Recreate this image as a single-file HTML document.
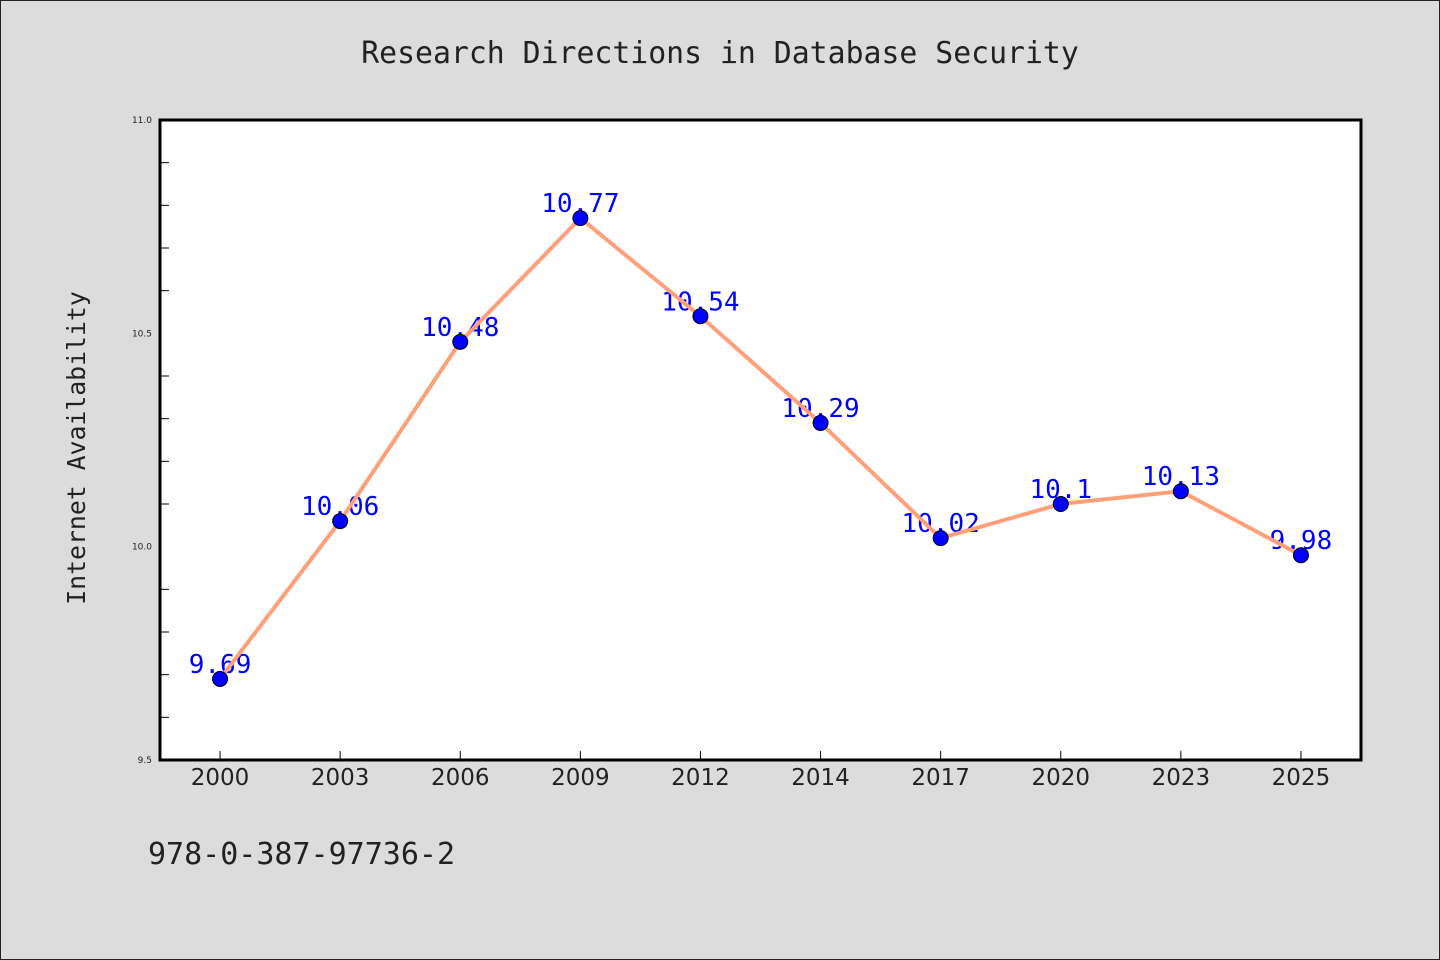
<!DOCTYPE html>
<html><head><meta charset="utf-8"><style>
body{margin:0;background:#dcdcdc;}
svg{display:block;}
</style></head><body>
<svg width="1440" height="960" xmlns="http://www.w3.org/2000/svg">
<rect x="0.5" y="0.5" width="1439" height="959" fill="#dcdcdc" stroke="#222" stroke-width="1"/>
<text x="720" y="63" text-anchor="middle" font-family="DejaVu Sans Mono, monospace" font-size="29.8" fill="#222">Research Directions in Database Security</text>
<rect x="160" y="120" width="1201" height="640" fill="#fff"/>
<g id="ticks"></g>
<g id="labels"></g>
<g id="line"></g>
<g id="markers"></g>
<rect x="160" y="120" width="1201" height="640" fill="none" stroke="#000" stroke-width="3"/>
<text transform="translate(85,448) rotate(-90)" text-anchor="middle" font-family="DejaVu Sans Mono, monospace" font-size="24.8" fill="#222">Internet Availability</text>
<text x="148" y="864" font-family="DejaVu Sans Mono, monospace" font-size="30" fill="#222">978-0-387-97736-2</text>
</svg>
<script>
const categories=["2000","2003","2006","2009","2012","2014","2017","2020","2023","2025"];
const values=[9.69,10.06,10.48,10.77,10.54,10.29,10.02,10.1,10.13,9.98];
const valueLabels=["9.69","10.06","10.48","10.77","10.54","10.29","10.02","10.1","10.13","9.98"];
const yTicks=[9.5,10.0,10.5,11.0];
const yTickLabels=["9.5","10.0","10.5","11.0"];
const yMinor=[9.6,9.7,9.8,9.9,10.1,10.2,10.3,10.4,10.6,10.7,10.8,10.9];
const NS="http://www.w3.org/2000/svg";
const L=160,R=1361,T=120,B=760,yMin=9.5,yMax=11.0;
const xs=i=>L+(R-L)/categories.length*(i+0.5);
const ys=v=>B-(v-yMin)/(yMax-yMin)*(B-T);
function mk(t,a,p){const e=document.createElementNS(NS,t);for(const k in a)e.setAttribute(k,a[k]);p.appendChild(e);return e;}
const tg=document.getElementById('ticks'),lg=document.getElementById('labels'),ln=document.getElementById('line'),mg=document.getElementById('markers');
yTicks.forEach((v,i)=>{
 const t=mk('text',{x:152,y:ys(v)+3,'text-anchor':'end','font-family':'DejaVu Sans, sans-serif','font-size':9,fill:'#222'},tg);
 t.textContent=yTickLabels[i];
 
 
});
yMinor.forEach(v=>{
 const l=mk('line',{x1:L,x2:L+9,y1:ys(v),y2:ys(v),stroke:'#000','stroke-width':1},tg);
 
 
});
categories.forEach((c,i)=>{
 const l=mk('line',{x1:xs(i),x2:xs(i),y1:B,y2:B-9,stroke:'#000','stroke-width':1},tg);
 
 
 const t=mk('text',{x:xs(i),y:B+25,'text-anchor':'middle','font-family':'DejaVu Sans, sans-serif','font-size':23,fill:'#222'},tg);
 t.textContent=c;
 
 
});
values.forEach((v,i)=>{
 const t=mk('text',{x:xs(i),y:ys(v)-6,'text-anchor':'middle','font-family':'DejaVu Sans Mono, monospace','font-size':26,fill:'#0000ff'},lg);
 t.textContent=valueLabels[i];
 
 
});
const p=mk('polyline',{points:values.map((v,i)=>xs(i)+','+ys(v)).join(' '),fill:'none',stroke:'#ffa07a','stroke-width':4},ln);


values.forEach((v,i)=>{
 const c=mk('circle',{cx:xs(i),cy:ys(v),r:7.5,fill:'#0000ff',stroke:'#000','stroke-width':1},mg);
 
 
});
</script>
</body></html>
